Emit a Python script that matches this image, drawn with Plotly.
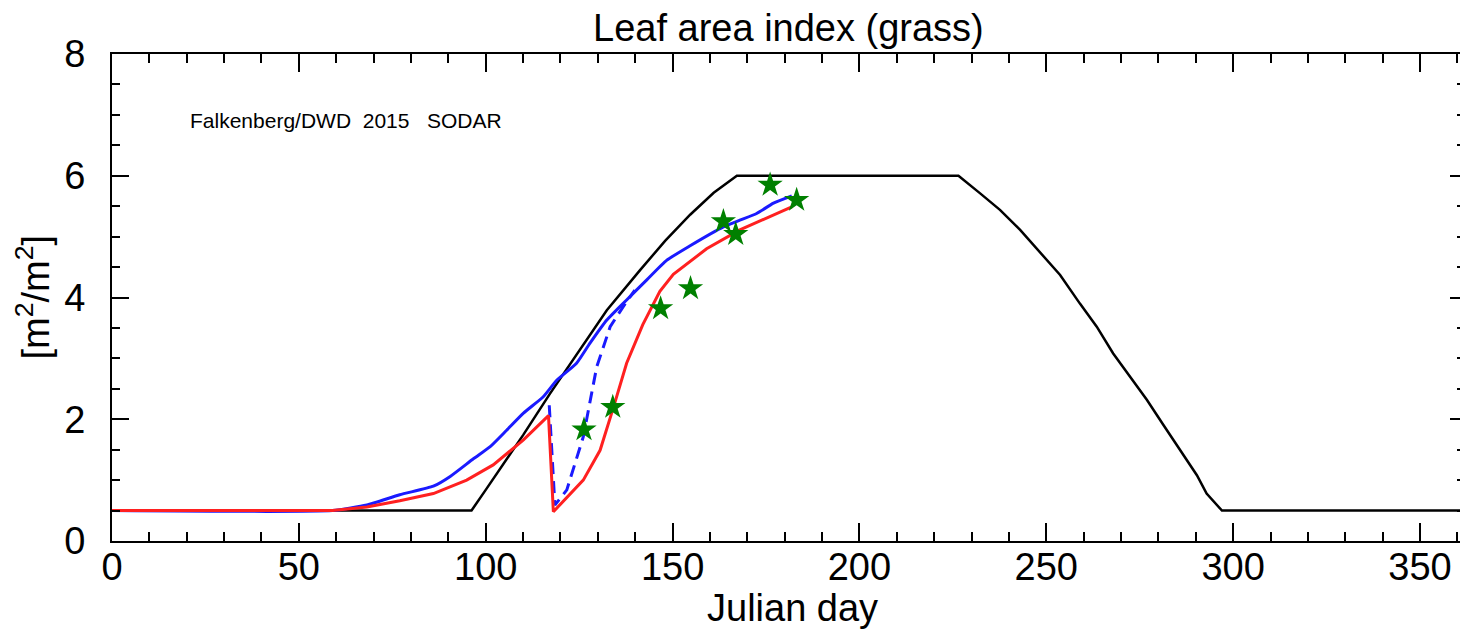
import plotly.graph_objects as go

# Prescribed LAI (black)
black_day = [0, 96.2, 100, 105, 110, 117.2, 125, 132.4, 141.3, 148, 154.7, 161, 167.2,
             226.5, 232.3, 237.6, 243.0, 248.3, 253.7, 259.0, 263.5, 267.9, 272.4, 276.9,
             281.3, 285.8, 290.3, 292.9, 297, 365]
black_lai = [0.5, 0.5, 0.84, 1.29, 1.74, 2.42, 3.12, 3.79, 4.45, 4.93, 5.36, 5.72, 6.0,
             6.0, 5.71, 5.44, 5.11, 4.75, 4.37, 3.90, 3.52, 3.08, 2.70, 2.32,
             1.91, 1.49, 1.08, 0.78, 0.5, 0.5]

# Blue model run (solid)
blue_day = [0, 59, 68.2, 77, 86, 90.5, 96.7, 101.2, 105.6, 110.1, 115.4, 119, 124.3, 127.9,
            132.4, 137.7, 143.1, 148.4, 154.7, 163.6, 168, 172.5, 177, 181.9]
blue_lai = [0.5, 0.5, 0.59, 0.76, 0.90, 1.06, 1.35, 1.55, 1.82, 2.10, 2.37, 2.64, 2.92, 3.25,
            3.63, 3.96, 4.29, 4.61, 4.85, 5.16, 5.27, 5.38, 5.55, 5.67]

# Blue model run after cut (dashed)
bdash_day = [117, 118.5, 121.7, 126.1, 129.7, 133.3, 136.8, 139.9]
bdash_lai = [2.23, 0.59, 0.84, 1.71, 2.86, 3.52, 3.85, 4.12]

# Red model run
red_day = [0, 59, 68.2, 77, 86, 94.9, 102, 110.1, 116.8, 118.1, 126.1, 130.6, 134.2, 137.7,
           142, 146.6, 150.2, 154.7, 159.1, 168, 176.9, 181.9]
red_lai = [0.5, 0.5, 0.56, 0.66, 0.78, 1.0, 1.25, 1.66, 2.06, 0.48, 1.0, 1.49, 2.2, 2.92,
           3.55, 4.1, 4.38, 4.59, 4.80, 5.11, 5.35, 5.49]

# Observations (green stars)
obs_day = [126.3, 134.0, 146.8, 154.8, 163.6, 166.9, 176.1, 183.2]
obs_lai = [1.83, 2.20, 3.82, 4.15, 5.25, 5.04, 5.85, 5.60]

x_ticks = [0, 50, 100, 150, 200, 250, 300, 350]
y_ticks = [0, 2, 4, 6, 8]

FONT = "Helvetica, Liberation Sans, Arial, sans-serif"
BIG = 38

fig = go.Figure()
fig.add_trace(go.Scatter(x=black_day, y=black_lai, mode="lines",
                         line=dict(color="black", width=2.5), showlegend=False))
fig.add_trace(go.Scatter(x=blue_day, y=blue_lai, mode="lines",
                         line=dict(color="#1a1aff", width=3, shape="spline", smoothing=0.5),
                         showlegend=False))
fig.add_trace(go.Scatter(x=bdash_day, y=bdash_lai, mode="lines",
                         line=dict(color="#1a1aff", width=3, dash="12px,7px"), showlegend=False))
fig.add_trace(go.Scatter(x=red_day, y=red_lai, mode="lines",
                         line=dict(color="#ff2020", width=3), showlegend=False))
fig.add_trace(go.Scatter(x=obs_day, y=obs_lai, mode="markers",
                         marker=dict(symbol="star", size=19, color="#008000",
                                     line=dict(width=0)), showlegend=False))
# empty trace to carry the right-hand tick axis
fig.add_trace(go.Scatter(x=[], y=[], yaxis="y2", showlegend=False, hoverinfo="skip"))

fig.update_layout(
    width=1460, height=629,
    margin=dict(l=112, r=0, t=54, b=88),
    paper_bgcolor="white", plot_bgcolor="white",
    font=dict(family=FONT, size=BIG, color="black"),
    title=dict(text="Leaf area index (grass)", x=0.540, xref="container",
               y=1 - 28 / 629, yref="container", xanchor="center", yanchor="middle",
               font=dict(size=BIG)),
    xaxis=dict(range=[0, 360.7], tickvals=x_ticks, ticktext=[str(v) for v in x_ticks],
               ticks="inside", ticklen=18, tickwidth=2, tickcolor="black",
               showline=True, linewidth=2, linecolor="black", mirror="ticks",
               showgrid=False, zeroline=False, ticklabelstandoff=-9,
               tickfont=dict(size=BIG),
               minor=dict(dtick=10, ticks="inside", ticklen=9, tickwidth=2,
                          tickcolor="black", showgrid=False)),
    yaxis=dict(range=[0, 8], tickvals=y_ticks, ticktext=[str(v) for v in y_ticks],
               ticks="inside", ticklen=17, tickwidth=2, tickcolor="black",
               showline=True, linewidth=2, linecolor="black", mirror=False,
               showgrid=False, zeroline=False, ticklabelstandoff=17,
               tickfont=dict(size=BIG),
               minor=dict(dtick=0.5, ticks="inside", ticklen=8, tickwidth=2,
                          tickcolor="black", showgrid=False)),
    yaxis2=dict(range=[0, 8], overlaying="y", side="right", anchor="x",
                tickvals=y_ticks, showticklabels=False,
                ticks="inside", ticklen=10, tickwidth=2, tickcolor="black",
                showline=False, showgrid=False, zeroline=False,
                minor=dict(dtick=0.5, ticks="inside", ticklen=3, tickwidth=2,
                           tickcolor="black", showgrid=False)),
    annotations=[
        dict(text="[m<sup>2</sup>/m<sup>2</sup>]", xref="paper", yref="paper",
             x=(33 - 112) / 1348, y=0.5,
             xanchor="center", yanchor="middle", textangle=-90, showarrow=False,
             font=dict(size=BIG)),
        dict(text="Julian day", xref="paper", yref="paper", x=(792 - 112) / 1348,
             y=-(608 - 541) / 487, xanchor="center", yanchor="middle", showarrow=False,
             font=dict(size=BIG)),
        dict(text="Falkenberg/DWD  2015   SODAR", xref="paper", yref="paper",
             x=(188 - 112) / 1348, y=(541 - 120) / 487, xanchor="left", yanchor="middle",
             showarrow=False, font=dict(size=21)),
    ],
)

fig.write_html("out.html", config={"displayModeBar": False},
               post_script="document.body.style.margin='0';document.body.style.overflow='hidden';")
